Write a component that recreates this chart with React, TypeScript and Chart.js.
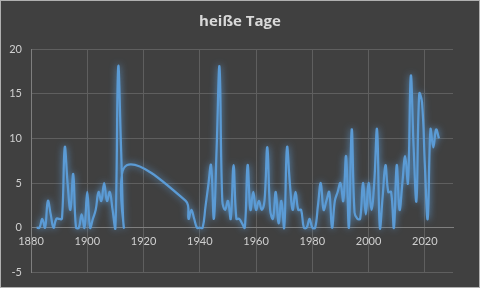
import React, { useEffect, useRef } from "react";
import { Chart, registerables } from "chart.js";

Chart.register(...registerables);

const title = "heiße Tage";

const years = [
  1882, 1883, 1884, 1885, 1886, 1887, 1888, 1889, 1890, 1891,
  1892, 1893, 1894, 1895, 1896, 1897, 1898, 1899, 1900, 1901,
  1902, 1903, 1904, 1905, 1906, 1907, 1908, 1909, 1910, 1911,
  1912, 1913, 1914,
  1935, 1936, 1937, 1938, 1939, 1940, 1941, 1942, 1943, 1944, 1945,
  1946, 1947, 1948, 1949, 1950, 1951, 1952, 1953, 1954, 1955,
  1956, 1957, 1958, 1959, 1960, 1961, 1962, 1963, 1964, 1965,
  1966, 1967, 1968, 1969, 1970, 1971, 1972, 1973, 1974, 1975,
  1976, 1977, 1978, 1979, 1980, 1981, 1982, 1983, 1984, 1985,
  1986, 1987, 1988, 1989, 1990, 1991, 1992, 1993, 1994, 1995,
  1996, 1997, 1998, 1999, 2000, 2001, 2002, 2003, 2004, 2005,
  2006, 2007, 2008, 2009, 2010, 2011, 2012, 2013, 2014, 2015,
  2016, 2017, 2018, 2019, 2020, 2021, 2022, 2023, 2024, 2025,
];

const hotDays = [
  0, 0, 1, 0, 3, 1.5, 0, 1, 1, 1,
  9, 5, 2, 6, 0, 0, 1.5, 0, 4, 0,
  1, 2, 4, 3, 5, 3, 4, 2, 0, 18,
  9, 0, 7,
  3, 1, 2, 1, 0, 0, 0, 2.3, 4.7, 7, 1,
  9, 18, 3, 2, 3, 1, 7, 1, 1, 0.5,
  0, 7, 2, 4, 2, 3, 2, 3, 9, 2,
  1, 4, 0.5, 3, 0, 9, 5, 2, 4, 2,
  2, 0, 0, 1, 0, 0, 2.5, 5, 2, 3,
  4, 0, 3, 4, 5, 3, 8, 0, 11, 1.7,
  1, 1, 5, 1.5, 5, 2, 5, 11, 0, 3.5,
  7, 4, 4, 0, 7, 2, 5, 8, 5, 17,
  9, 3, 15, 14, 7, 1, 11, 9, 11, 10,
];

const xMin = 1880;
const xMax = 2030;
const xLastLabel = 2020;
const xStep = 20;
const yMin = -5;
const yMax = 20;
const yStep = 5;

const bgPlugin = {
  id: "bgPlugin",
  beforeDraw(chart: any) {
    const { ctx, width, height } = chart;
    ctx.save();
    ctx.fillStyle = "#404040";
    ctx.fillRect(0, 0, width, height);
    ctx.strokeStyle = "#b0b0b0";
    ctx.lineWidth = 1;
    ctx.strokeRect(0.5, 0.5, width - 1, height - 1);
    ctx.fillStyle = "#d9d9d9";
    ctx.font = "bold 15px 'Open Sans'";
    ctx.textAlign = "center";
    ctx.textBaseline = "middle";
    ctx.fillText(title, width / 2, 22);
    ctx.restore();
  },
};

const glowPlugin = {
  id: "glowPlugin",
  beforeDatasetDraw(chart: any) {
    const ctx = chart.ctx;
    ctx.save();
    ctx.shadowColor = "rgba(91,155,213,0.9)";
    ctx.shadowBlur = 7;
  },
  afterDatasetDraw(chart: any) {
    chart.ctx.restore();
  },
};

export default function App() {
  const ref = useRef<HTMLCanvasElement | null>(null);

  useEffect(() => {
    document.body.style.margin = "0";
    const canvas = ref.current;
    if (!canvas) return;
    const tickColor = "#d0d0d0";
    const tickFont = { family: "Lato", size: 11 };
    const chart = new Chart(canvas, {
      type: "line",
      data: {
        datasets: [
          {
            data: years.map((yr, i) => ({ x: yr, y: hotDays[i] })),
            borderColor: "#5b9bd5",
            borderWidth: 2.25,
            pointRadius: 0,
            tension: 0.4,
            fill: false,
          },
        ],
      },
      options: {
        animation: false,
        responsive: false,
        maintainAspectRatio: false,
        layout: { padding: { left: 0, right: 27, top: 49, bottom: 15 } },
        plugins: {
          legend: { display: false },
          tooltip: { enabled: false },
          title: { display: false },
        },
        scales: {
          x: {
            type: "linear",
            min: xMin,
            max: xMax,
            position: { y: 0 } as any,
            afterBuildTicks: (s: any) => {
              const t: any[] = [];
              for (let v = xMin; v <= xLastLabel; v += xStep) t.push({ value: v });
              s.ticks = t;
            },
            ticks: {
              stepSize: xStep,
              color: tickColor,
              font: tickFont,
              padding: 7,
              maxRotation: 0,
              autoSkip: false,
              callback: (v: any) => String(v),
            },
            grid: { color: "#5f5f5f", drawTicks: false },
            border: { color: "#7f7f7f" },
          },
          y: {
            min: yMin,
            max: yMax,
            afterFit: (s: any) => {
              s.width = 31;
            },
            ticks: {
              stepSize: yStep,
              color: tickColor,
              font: tickFont,
              padding: 9,
              callback: (v: any) => String(v),
            },
            grid: { color: "#5f5f5f", drawTicks: false },
            border: { color: "#7f7f7f" },
          },
        },
      },
      plugins: [bgPlugin, glowPlugin],
    });
    return () => chart.destroy();
  }, []);

  return (
    <div style={{ width: 480, height: 288 }}>
      <canvas ref={ref} width={480} height={288} style={{ display: "block" }} />
    </div>
  );
}
